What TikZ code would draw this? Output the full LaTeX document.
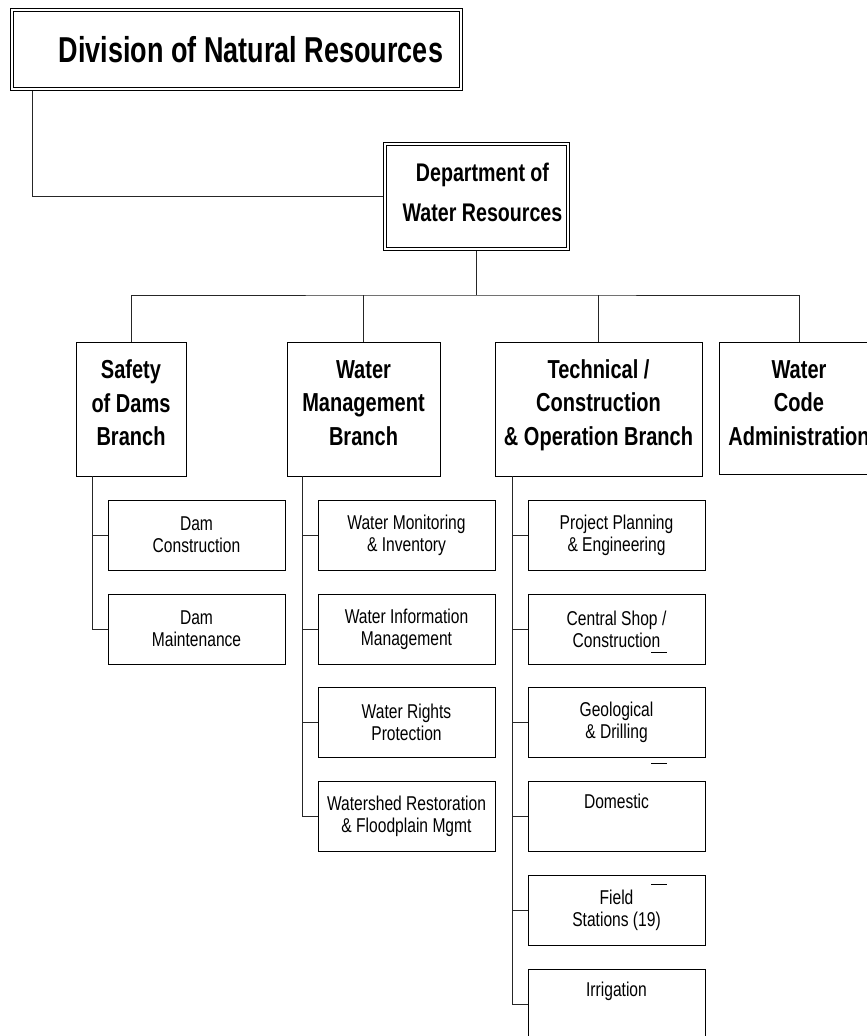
\documentclass[tikz,border=0pt]{standalone}
\usepackage{fontspec}
\newfontfamily\nsans[FakeStretch=0.77]{Liberation Sans}
\newfontfamily\nsanstitle[FakeStretch=0.75]{Liberation Sans}
\newfontfamily\nsanssub[FakeStretch=0.78]{Liberation Sans}
\usetikzlibrary{calc}
\begin{document}
\begin{tikzpicture}[x=1pt,y=-1pt,
  box/.style={draw=black,line width=1pt,rectangle,inner sep=0pt,outer sep=0pt},
  dbox/.style={draw=black,line width=0.9pt,double=white,double distance=2.6pt,rectangle,inner sep=0pt,outer sep=0pt},
  branch/.style={box,minimum height=134pt},
  subbox/.style={box,minimum width=177pt,minimum height=70pt,align=center,font=\nsanssub\fontsize{20}{22}\selectfont},
  btext/.style={align=center,inner sep=0pt,font=\nsans\bfseries\fontsize{26}{33.5}\selectfont},
  conn/.style={draw=black!85,line width=1pt},
  stray/.style={draw=black,line width=1pt}
]
\useasboundingbox (0,0) rectangle (867,1036);
\clip (0,0) rectangle (867,1036);

% top levels
\node[dbox,minimum width=449pt,minimum height=79pt] (div) at (236.5,49.5) {};
\node[inner sep=0pt,font=\nsanstitle\bfseries\fontsize{36}{40}\selectfont] (divT) at ([xshift=14.5pt]div.center) {Division of Natural Resources};

\node[dbox,minimum width=183pt,minimum height=105pt] (dep) at (476.5,196.5) {};
\node[btext,font=\nsans\bfseries\fontsize{25.5}{40}\selectfont] (depT) at ([xshift=6pt,yshift=4pt]dep.center) {Department of\\Water Resources};

\draw[conn] ([xshift=20pt,yshift=-2pt]div.south west) |- ([xshift=-2pt]dep.west);

% branches
\node[branch,minimum width=110pt] (sd) at (131,409) {};
\node[btext] (sdT) at ([yshift=6pt]sd.center) {Safety\\of Dams\\Branch};
\node[branch,minimum width=153pt] (wm) at (363.5,409) {};
\node[btext] (wmT) at ([yshift=6pt]wm.center) {Water\\Management\\Branch};
\node[branch,minimum width=207pt] (tc) at (598.5,409) {};
\node[btext] (tcT) at ([yshift=4pt]tc.center) {Technical /\\Construction\\\& Operation Branch};
\node[branch,minimum width=160pt,minimum height=132pt] (wc) at (799,408) {};
\node[btext] (wcT) at ([yshift=5pt]wc.center) {Water\\Code\\Administration};

\coordinate (bus) at (476.5,295);
\draw[conn] ([yshift=-2pt]dep.south) -- (bus);
\draw[conn] (sd.north) |- (bus) -| (wc.north);
\draw[conn] (wm.north) -- (wm.north |- bus);
\draw[conn] (tc.north) -- (tc.north |- bus);

% Safety of Dams column
\node[subbox] (dc) at (196.5,535) {Dam\\Construction};
\node[subbox] (dm) at (196.5,629) {Dam\\Maintenance};
\coordinate (sdtrunk) at (92,476);
\draw[conn] (sdtrunk) |- (dm.west);
\draw[conn] (sdtrunk |- dc.west) -- (dc.west);

% Water Management column
\node[subbox] (wmi) at (406.5,535) {Water Monitoring\\\& Inventory};
\node[subbox] (wim) at (406.5,629) {Water Information\\Management};
\node[subbox] (wrp) at (406.5,722) {Water Rights\\Protection};
\node[subbox] (wsr) at (406.5,816) {Watershed Restoration\\\& Floodplain Mgmt};
\coordinate (wmtrunk) at (302,476);
\draw[conn] (wmtrunk) |- (wsr.west);
\draw[conn] (wmtrunk |- wmi.west) -- (wmi.west);
\draw[conn] (wmtrunk |- wim.west) -- (wim.west);
\draw[conn] (wmtrunk |- wrp.west) -- (wrp.west);

% Technical column
\node[subbox] (ppe) at (616.5,535) {Project Planning\\\& Engineering};
\node[subbox] (csc) at (616.5,629) {Central Shop /\\Construction};
\node[subbox] (gd) at (616.5,722) {Geological\\\& Drilling};
\node[subbox] (dom) at (616.5,816) {Domestic\\\strut};
\node[subbox] (fs) at (616.5,910) {Field\\Stations (19)};
\node[subbox] (irr) at (616.5,1004) {Irrigation\\\strut};
\coordinate (tctrunk) at (512,476);
\draw[conn] (tctrunk) |- (irr.west);
\draw[conn] (tctrunk |- ppe.west) -- (ppe.west);
\draw[conn] (tctrunk |- csc.west) -- (csc.west);
\draw[conn] (tctrunk |- gd.west) -- (gd.west);
\draw[conn] (tctrunk |- dom.west) -- (dom.west);
\draw[conn] (tctrunk |- fs.west) -- (fs.west);

% stray short strokes
\draw[stray] (651,652) -- (667,652);
\draw[stray] (651,763) -- (667,763);
\draw[stray] (651,884) -- (667,884);
\end{tikzpicture}
\end{document}
